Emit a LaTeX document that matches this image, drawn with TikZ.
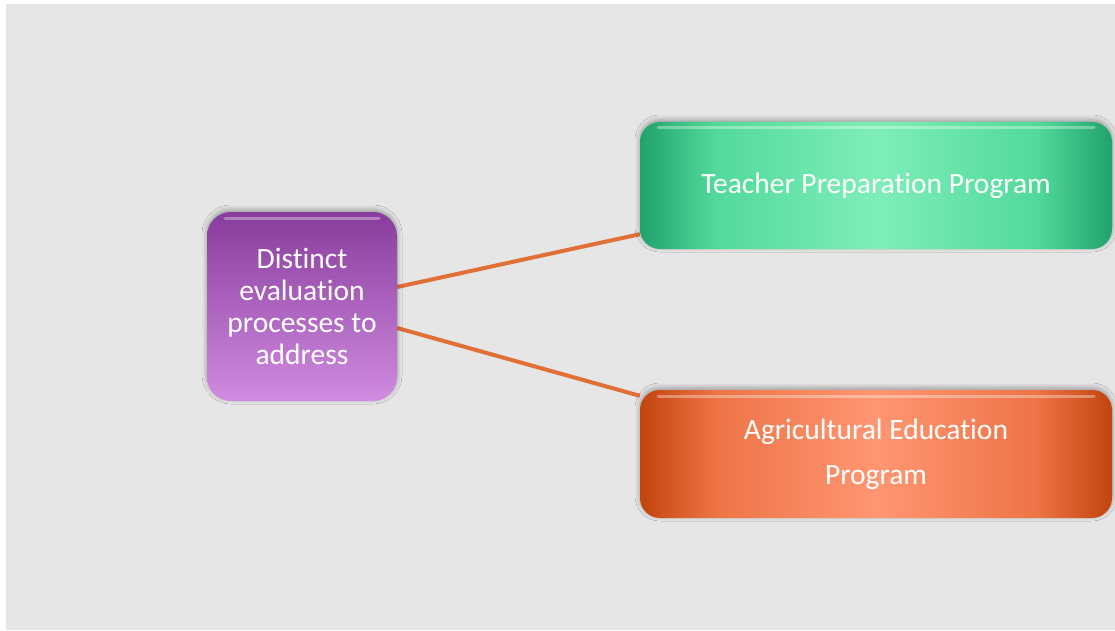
\documentclass[tikz,border=0pt]{standalone}
\usepackage{fontspec}
\setmainfont{Carlito}[RawFeature=-liga]
\usetikzlibrary{backgrounds}
\usetikzlibrary{shadows.blur}
\definecolor{bgray}{HTML}{E6E6E6}
\definecolor{linkc}{HTML}{E07038}
\definecolor{gdark}{HTML}{20A26C}
\definecolor{gmid}{HTML}{52DA9A}
\definecolor{glight}{HTML}{7EEEB8}
\definecolor{odark}{HTML}{C2440E}
\definecolor{omid}{HTML}{EE7446}
\definecolor{olight}{HTML}{FF9672}
\pgfdeclarehorizontalshading{greenbar}{100bp}{color(0bp)=(gdark); color(25bp)=(gdark);
  color(33bp)=(gmid); color(50bp)=(glight); color(67bp)=(gmid); color(75bp)=(gdark); color(100bp)=(gdark)}
\pgfdeclarehorizontalshading{orangebar}{100bp}{color(0bp)=(odark); color(25bp)=(odark);
  color(33bp)=(omid); color(50bp)=(olight); color(67bp)=(omid); color(75bp)=(odark); color(100bp)=(odark)}
\tikzset{box/.style={rounded corners=20pt, text=white, align=center, inner sep=0pt,
    blur shadow={shadow xshift=0pt, shadow yshift=2pt, shadow blur steps=10, shadow opacity=35, shadow blur radius=5pt},
    path picture={\draw[white, opacity=.35, line width=3pt, line cap=round]
      ([xshift=18pt,yshift=-6pt]path picture bounding box.north west) --
      ([xshift=-18pt,yshift=-6pt]path picture bounding box.north east);}}}
\tikzset{l/.style={font=\fontsize{29.5}{32}\selectfont}}
\tikzset{m/.style={font=\fontsize{29.5}{45}\selectfont}}
\tikzset{link/.style={draw=linkc, line width=4pt}}

\begin{document}
\begin{tikzpicture}[x=1pt, y=-1pt]
        \useasboundingbox (0,0) rectangle (1115,631);
          \node[box, l, minimum width=190pt, minimum height=189pt, rounded corners=24pt,
            top color={rgb,255:red,136;green,60;blue,156}, bottom color={rgb,255:red,208;green,140;blue,224}]
            (dist) at (302,306.5) {Distinct\\evaluation\\processes to\\address};
          \node[box, l, minimum width=472pt, minimum height=127pt, shade, shading=greenbar]
            (teach) at (876,185.5) {Teacher Preparation Program};
          \node[box, m, minimum width=472pt, minimum height=128pt, shade, shading=orangebar]
            (agri) at (876,454) {Agricultural Education\\Program};
          \begin{scope}[on background layer]
            \fill[bgray] (6,4) rectangle (1115,630);
            \draw[link] ([yshift=19.5pt]dist.east) -- ([yshift=15pt]teach.south west);
            \draw[link] ([yshift=-21.5pt]dist.east) -- ([yshift=-6pt]agri.north west);
          \end{scope}
      \end{tikzpicture}
\end{document}
